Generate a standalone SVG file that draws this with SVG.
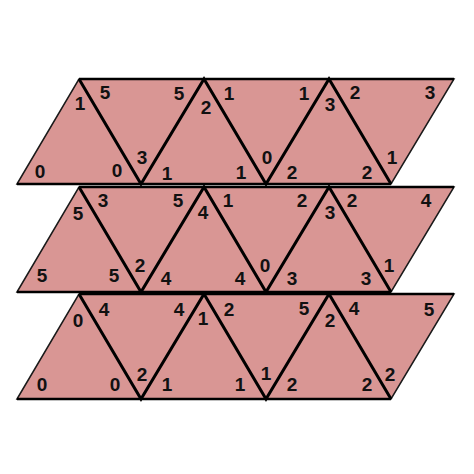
<svg xmlns="http://www.w3.org/2000/svg" width="474" height="474" viewBox="0 0 474 474">
<style>
.band{fill:#D99694;stroke:#1a1a1a;stroke-width:1.5;stroke-linejoin:miter}
.edge{stroke:#000;stroke-width:2.5;fill:none}
.zig{stroke:#000;stroke-width:3;fill:none;stroke-linejoin:miter}
text{font-family:"Liberation Sans",Arial,sans-serif;font-weight:bold;font-size:19px;text-anchor:middle;fill:#111}
</style>
<rect width="474" height="474" fill="#fff"/>
<g id="row1">
<polygon class="band" points="17,184 79,79 454,79 391,184"/>
<g id="connectors-row1">
<line class="edge" x1="79" y1="79" x2="454" y2="79"/>
<line class="edge" x1="17" y1="184" x2="391" y2="184"/>
<polyline class="zig" points="79,79 141,184 204,79 266,184 329,79 391,184"/>
</g>
<g id="labels-row1">
<text x="40" y="178">0</text><text x="80" y="110">1</text><text x="117" y="177">0</text>
<text x="105" y="99">5</text><text x="179" y="100">5</text><text x="142" y="164">3</text>
<text x="206" y="114">2</text><text x="167" y="180">1</text><text x="241" y="179">1</text>
<text x="229" y="100">1</text><text x="304" y="100">1</text><text x="267" y="164">0</text>
<text x="330" y="111">3</text><text x="292" y="179">2</text><text x="367" y="179">2</text>
<text x="355" y="99">2</text><text x="430" y="99">3</text><text x="392" y="164">1</text>
</g>
</g>
<g id="row2">
<polygon class="band" points="17,292 79,187 454,187 391,292"/>
<g id="connectors-row2">
<line class="edge" x1="79" y1="187" x2="454" y2="187"/>
<line class="edge" x1="17" y1="292" x2="391" y2="292"/>
<polyline class="zig" points="79,187 141,292 204,187 266,292 329,187 391,292"/>
</g>
<g id="labels-row2">
<text x="42" y="282">5</text><text x="78" y="220">5</text><text x="114" y="282">5</text>
<text x="103" y="207">3</text><text x="178" y="207">5</text><text x="140" y="272">2</text>
<text x="203" y="219">4</text><text x="166" y="285">4</text><text x="240" y="285">4</text>
<text x="228" y="207">1</text><text x="302" y="207">2</text><text x="265" y="272">0</text>
<text x="330" y="219">3</text><text x="292" y="285">3</text><text x="366" y="285">3</text>
<text x="352" y="207">2</text><text x="426" y="207">4</text><text x="389" y="272">1</text>
</g>
</g>
<g id="row3">
<polygon class="band" points="17,399 79,294 454,294 391,399"/>
<g id="connectors-row3">
<line class="edge" x1="79" y1="294" x2="454" y2="294"/>
<line class="edge" x1="17" y1="399" x2="391" y2="399"/>
<polyline class="zig" points="79,294 141,399 204,294 266,399 329,294 391,399"/>
</g>
<g id="labels-row3">
<text x="42" y="391">0</text><text x="78" y="327">0</text><text x="115" y="391">0</text>
<text x="104" y="316">4</text><text x="179" y="316">4</text><text x="142" y="381">2</text>
<text x="203" y="325">1</text><text x="167" y="391">1</text><text x="240" y="391">1</text>
<text x="229" y="316">2</text><text x="304" y="315">5</text><text x="266" y="380">1</text>
<text x="330" y="327">2</text><text x="292" y="391">2</text><text x="367" y="391">2</text>
<text x="354" y="315">4</text><text x="429" y="316">5</text><text x="390" y="381">2</text>
</g>
</g>
</svg>
